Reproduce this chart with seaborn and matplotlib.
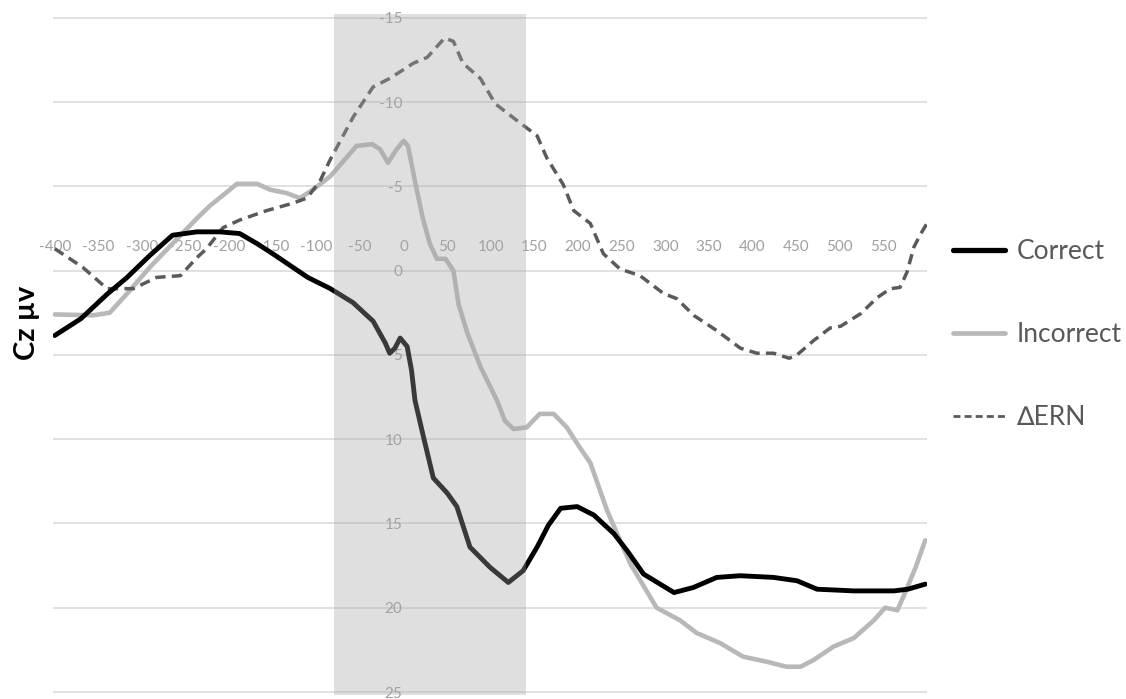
import matplotlib
matplotlib.use("Agg")
import matplotlib.pyplot as plt
import pandas as pd
import seaborn as sns
from matplotlib.lines import Line2D

# time points (ms) and amplitudes (µV), per condition
correct_t = [-400, -370, -340, -317, -291, -265, -237, -211, -188, -168, -150, -130, -110,
             -84, -58, -35, -21, -16, -10, -4, 4, 9, 13, 22, 34, 50, 61, 76, 99, 120,
             137, 153, 166, 180, 199, 218, 241, 256, 275, 310, 332, 359, 386, 424, 451,
             474, 516, 562, 578, 598]
correct_v = [3.85, 2.85, 1.4, 0.4, -0.9, -2.1, -2.3, -2.3, -2.2, -1.6, -1.0, -0.3, 0.4,
             1.07, 1.9, 3.0, 4.3, 4.9, 4.6, 4.0, 4.5, 5.9, 7.7, 9.7, 12.3, 13.2, 14.0,
             16.4, 17.6, 18.5, 17.8, 16.4, 15.1, 14.1, 14.0, 14.5, 15.6, 16.6, 18.0, 19.1,
             18.8, 18.2, 18.1, 18.2, 18.4, 18.9, 19.0, 19.0, 18.9, 18.6]

incorrect_t = [-400, -356, -337, -317, -291, -265, -237, -222, -191, -168, -153, -134, -119,
               -104, -84, -54, -36, -27, -18, -8, 0, 5, 13, 22, 30, 38, 48, 57, 63, 73, 88,
               107, 116, 126, 141, 156, 172, 187, 202, 214, 233, 248, 260, 290, 317, 336,
               363, 389, 416, 439, 455, 470, 493, 516, 539, 552, 566, 575, 587, 598]
incorrect_v = [2.6, 2.65, 2.5, 1.36, -0.2, -1.6, -3.1, -3.85, -5.15, -5.15, -4.8, -4.6, -4.3,
               -4.8, -5.6, -7.4, -7.5, -7.2, -6.4, -7.2, -7.7, -7.4, -5.3, -3.1, -1.6, -0.7,
               -0.7, 0.0, 2.0, 3.7, 5.7, 7.7, 8.9, 9.4, 9.3, 8.5, 8.5, 9.3, 10.5, 11.4, 14.2,
               16.0, 17.4, 20.0, 20.75, 21.5, 22.1, 22.9, 23.2, 23.5, 23.5, 23.1, 22.3, 21.8,
               20.75, 20.0, 20.15, 19.1, 17.6, 16.0]

ern_t = [-400, -368, -340, -310, -283, -256, -237, -226, -207, -188, -157, -127, -111, -96,
         -84, -58, -35, -16, 11, 27, 47, 57, 68, 88, 105, 130, 153, 164, 183, 195, 214, 229,
         248, 271, 298, 313, 333, 359, 386, 405, 424, 442, 451, 470, 489, 501, 524, 543, 558,
         569, 577, 585, 593, 600]
ern_v = [-1.3, -0.2, 1.07, 1.07, 0.4, 0.3, -0.77, -1.3, -2.55, -3.0, -3.56, -4.0, -4.3, -5.3,
         -6.6, -9.1, -10.9, -11.4, -12.3, -12.65, -13.8, -13.6, -12.3, -11.4, -9.9, -8.9, -8.0,
         -6.7, -5.1, -3.56, -2.8, -1.0, -0.1, 0.3, 1.36, 1.66, 2.67, 3.56, 4.6, 4.9, 4.9, 5.2,
         5.0, 4.15, 3.4, 3.3, 2.55, 1.6, 1.07, 1.0, 0.1, -1.4, -2.2, -2.8]

window = (-80, 140)
x_ticks = list(range(-400, 551, 50))
y_ticks = list(range(-15, 26, 5))

sns.set_style("white")
plt.rcParams["font.family"] = ["Lato", "DejaVu Sans"]
plt.rcParams["axes.unicode_minus"] = False

fig = plt.figure(figsize=(11.26, 6.99), dpi=100)
W, H = 1126, 699
# axes box in pixels: x -402..600 -> 53..927, y 25.2..-15.2 -> 695..14
ax = fig.add_axes([53 / W, (H - 695.4) / H, (927 - 53) / W, (695.4 - 14.4) / H])

df_c = pd.DataFrame({"t": correct_t, "v": correct_v})
df_i = pd.DataFrame({"t": incorrect_t, "v": incorrect_v})
df_e = pd.DataFrame({"t": ern_t, "v": ern_v})

sns.lineplot(data=df_c, x="t", y="v", ax=ax, color="black", linewidth=3.5, zorder=3)
sns.lineplot(data=df_i, x="t", y="v", ax=ax, color="#b8b8b8", linewidth=3.3, zorder=2)
sns.lineplot(data=df_e, x="t", y="v", ax=ax, color="#5a5a5a", linewidth=2.5,
             dashes=(3, 1.8), zorder=2)
for ln in ax.lines:
    ln.set_solid_capstyle("round")
    ln.set_solid_joinstyle("round")

ax.axvspan(*window, color="#a6a6a6", alpha=0.35, lw=0, zorder=5)

ax.set_xlim(-402, 600)
ax.set_ylim(25.2, -15.2)
ax.set_xticks(x_ticks)
ax.set_yticks(y_ticks)
ax.yaxis.grid(True, color="#d9d9d9", linewidth=1.1)
ax.xaxis.grid(False)

for s in ax.spines.values():
    s.set_visible(False)
ax.spines["left"].set_position(("data", 0))
ax.spines["top"].set_position(("data", 0))
ax.xaxis.set_ticks_position("top")
ax.tick_params(axis="x", length=0, pad=12, labelsize=11, labelcolor="#a0a0a0")
ax.tick_params(axis="y", length=0, pad=1, labelsize=11, labelcolor="#a0a0a0")
ax.set_xlabel("")
ax.set_ylabel("")

fig.text(27 / W, 1 - 323 / H, "Cz µv", rotation=90, ha="center", va="center",
         fontsize=21, fontweight="bold", color="black")

handles = [
    Line2D([], [], color="black", linewidth=3.8),
    Line2D([], [], color="#b8b8b8", linewidth=3.4),
    Line2D([], [], color="#5a5a5a", linewidth=2.0, dashes=(2.5, 1.5)),
]
fig.legend(handles, ["Correct", "Incorrect", "∆ERN"], loc="upper left",
           bbox_to_anchor=(940 / W, 1 - 226 / H), frameon=False, fontsize=19,
           handlelength=1.95, handletextpad=0.45, labelspacing=2.2, borderpad=0,
           labelcolor="#595959")

fig.savefig("out.png", dpi=100)
